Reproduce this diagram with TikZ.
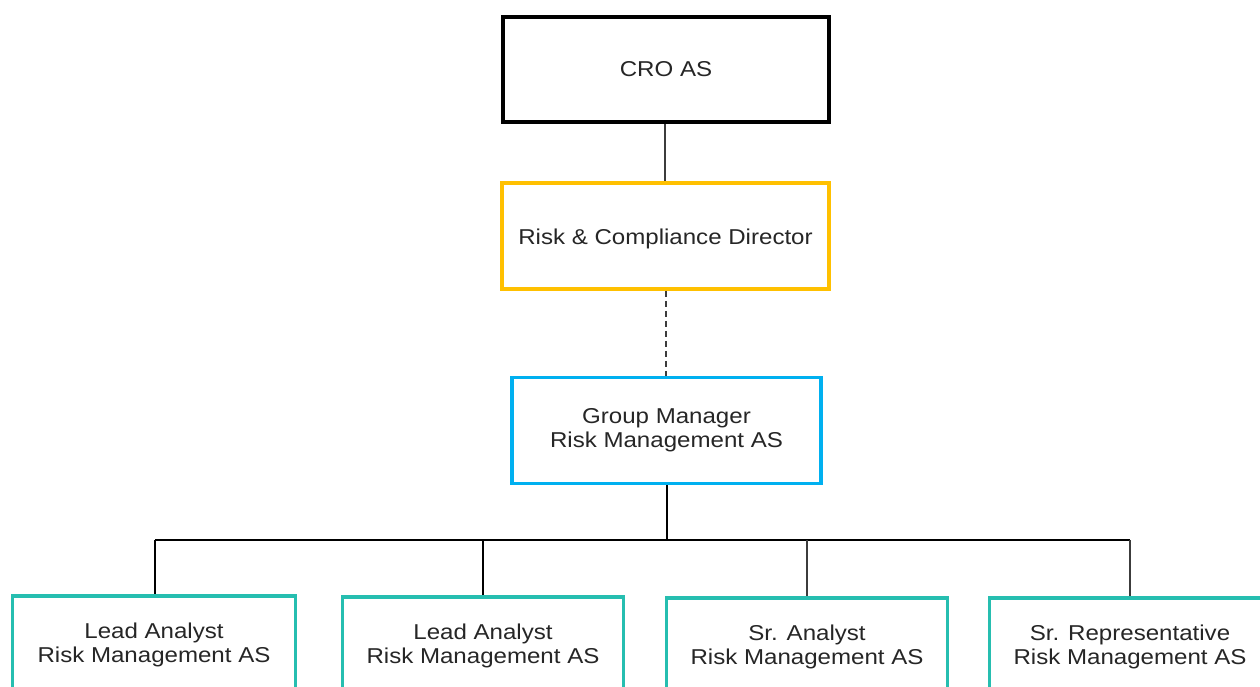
\documentclass[tikz,border=0pt]{standalone}
\usepackage{fontspec}
\setmainfont{Liberation Sans}[FakeStretch=1.12]
\definecolor{croblack}{RGB}{0,0,0}
\definecolor{dirgold}{RGB}{255,192,0}
\definecolor{gmblue}{RGB}{0,176,240}
\definecolor{staffteal}{RGB}{38,190,176}
\definecolor{linkgray}{RGB}{60,60,60}
\begin{document}
\begin{tikzpicture}[x=1pt,y=-1pt,
  orgbox/.style={draw, line width=3.5pt, fill=white, align=center,
    inner sep=0pt, font=\fontsize{21.5}{24}\selectfont, text=black!85},
  staffbox/.style={orgbox, draw=staffteal, minimum width=281pt, minimum height=97pt},
  link/.style={draw=linkgray, line width=1.5pt}]
\useasboundingbox (0,0) rectangle (1260,687);
\clip (0,0) rectangle (1260,687);

% hierarchy boxes
\node[orgbox, draw=croblack, line width=4pt, minimum width=326pt, minimum height=105pt,
  text height=15pt, text depth=0pt] (cro) at (666,69.5) {CRO AS};
\node[orgbox, draw=dirgold, minimum width=327pt, minimum height=106pt,
  text height=17pt, text depth=0pt] (dir) at (665.5,236) {Risk \& Compliance Director};
\node[orgbox, draw=gmblue, minimum width=309pt, minimum height=106pt] (gm) at (666.5,430.5) {Group Manager\\Risk Management AS};

% staff row
\node[staffbox, minimum width=283pt] (la1) at (154,644.5) {Lead Analyst\\Risk Management AS};
\node[staffbox] (la2) at (483,645.5) {Lead Analyst\\Risk Management AS};
\node[staffbox] (sa) at (807,646.5) {Sr. Analyst\\Risk Management AS};
\node[staffbox] (sr) at (1130,646.5) {Sr. Representative\\Risk Management AS};

% reporting lines
\draw[link] (cro.south -| 665,0) -- (dir.north -| 665,0);
\draw[link, dashed, dash pattern=on 6pt off 4pt] (dir.south -| 666,0) -- (gm.north -| 666,0);

\coordinate (busL) at (155,540);
\coordinate (busR) at (1130,540);
\draw[link, draw=black] (gm.south -| 667,0) -- (667,540);
\draw[link, draw=black] (busL) -- (busR);
\draw[link, draw=black] (busL) -- (la1.north -| busL);
\draw[link, draw=black] (la2.north |- busL) -- (la2.north);
\draw[link] (sa.north |- busL) -- (sa.north);
\draw[link] (busR) -- (sr.north -| busR);
\end{tikzpicture}
\end{document}
